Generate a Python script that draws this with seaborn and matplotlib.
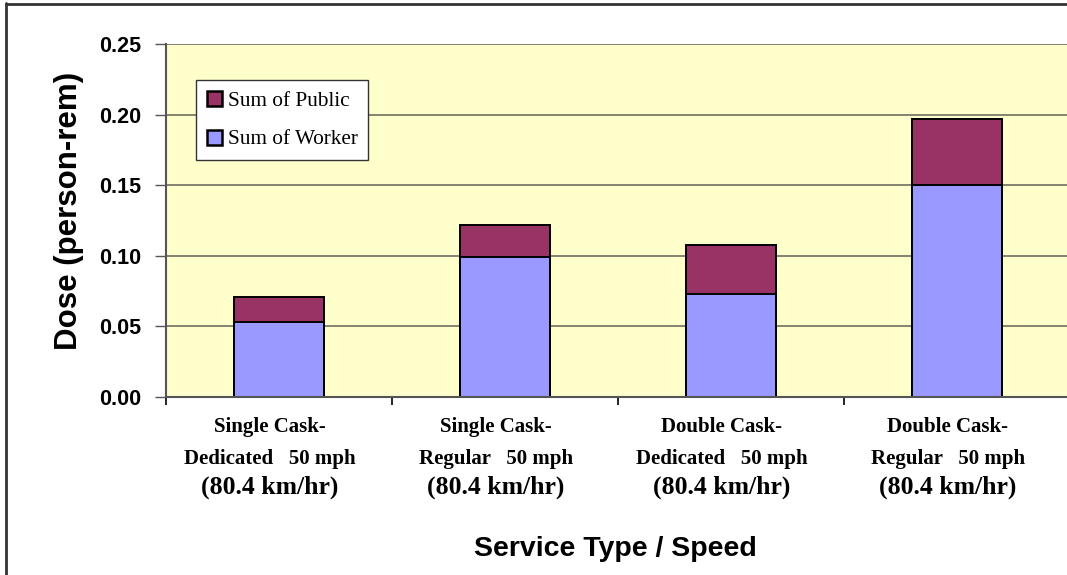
import matplotlib
matplotlib.use("Agg")
import matplotlib.pyplot as plt
import matplotlib.transforms as mtransforms
from matplotlib.lines import Line2D
from matplotlib.patches import Patch
import seaborn as sns
import pandas as pd

# Data
service_line1 = ["Single Cask-", "Single Cask-", "Double Cask-", "Double Cask-"]
service_line2 = ["Dedicated   50 mph", "Regular   50 mph", "Dedicated   50 mph", "Regular   50 mph"]
speed_metric = ["(80.4 km/hr)", "(80.4 km/hr)", "(80.4 km/hr)", "(80.4 km/hr)"]
worker_dose = [0.053, 0.099, 0.073, 0.150]
public_dose = [0.018, 0.023, 0.035, 0.047]
y_ticks = [0.00, 0.05, 0.10, 0.15, 0.20, 0.25]

categories = [f"{a} {b}" for a, b in zip(service_line1, service_line2)]
df = pd.DataFrame({
    "service": categories,
    "Worker": worker_dose,
    "Public": public_dose,
})
df["Total"] = df["Worker"] + df["Public"]

sns.set_theme(style="white")
plt.rcParams["font.family"] = ["Liberation Sans", "DejaVu Sans"]
plt.rcParams["text.color"] = "black"
plt.rcParams["axes.labelcolor"] = "black"
plt.rcParams["xtick.color"] = "black"
plt.rcParams["ytick.color"] = "black"

W, H = 1067, 575
fig = plt.figure(figsize=(W / 100, H / 100), dpi=100)
fig.patch.set_facecolor("white")
ax = fig.add_axes([166 / W, 1 - 397 / H, (1070 - 166) / W, (397 - 44) / H])
ax.set_facecolor("#FFFFCC")

public_color = "#993366"
worker_color = "#9999FF"

# Stacked bars: total (public on top) drawn first, worker portion over it
sns.barplot(data=df, x="service", y="Total", color=public_color, saturation=1,
            width=0.4, edgecolor="black", linewidth=1.4, ax=ax, zorder=3)
sns.barplot(data=df, x="service", y="Worker", color=worker_color, saturation=1,
            width=0.4, edgecolor="black", linewidth=1.4, ax=ax, zorder=4)

ax.set_xlim(-0.5, 3.5)
ax.set_ylim(0, 0.25)
ax.set_yticks(y_ticks)
ax.set_yticklabels([f"{v:.2f}" for v in y_ticks], fontsize=15.5, fontweight="bold")
ax.yaxis.grid(True, color="#7a7a6a", linewidth=1.3, zorder=1)
ax.set_axisbelow(True)

for side in ["top", "right"]:
    ax.spines[side].set_visible(False)
for side in ["left", "bottom"]:
    ax.spines[side].set_color("#555555")
    ax.spines[side].set_linewidth(1.5)
    ax.spines[side].set_zorder(5)

ax.tick_params(axis="y", which="major", direction="out", length=8, width=1,
               color="#555555", pad=10, left=True)

# Category boundaries as downward ticks, labels drawn separately
ax.set_xticks([-0.5, 0.5, 1.5, 2.5, 3.5])
ax.set_xticklabels([])
ax.tick_params(axis="x", which="major", direction="out", length=6, width=1.2,
               color="black", bottom=True)

ax.set_xlabel("")
ax.set_ylabel("Dose (person-rem)", fontsize=22.5, fontweight="bold")
ax.yaxis.set_label_coords((84 - 166) / (1070 - 166), 0.527)

trans = mtransforms.blended_transform_factory(ax.transData, fig.transFigure)
serif = ["Liberation Serif", "DejaVu Serif"]
for i in range(len(categories)):
    xc = i - 0.04
    ax.text(xc, 1 - 427 / H, service_line1[i], transform=trans, ha="center", va="center",
            family=serif, fontweight="bold", fontsize=15)
    ax.text(xc, 1 - 459 / H, service_line2[i], transform=trans, ha="center", va="center",
            family=serif, fontweight="bold", fontsize=15)
    ax.text(xc, 1 - 487 / H, speed_metric[i], transform=trans, ha="center", va="center",
            family=serif, fontweight="bold", fontsize=18.5)

fig.text((470 + 760) / 2 / W, 1 - 549 / H, "Service Type / Speed", ha="center", va="center",
         fontsize=20.5, fontweight="bold")

# Legend
handles = [Patch(facecolor=public_color, edgecolor="black", linewidth=1.8, label="Sum of Public"),
           Patch(facecolor=worker_color, edgecolor="black", linewidth=1.8, label="Sum of Worker")]
leg = ax.legend(handles=handles, loc="upper left",
                bbox_to_anchor=((196 - 166) / (1070 - 166), (397 - 80) / (397 - 44)),
                frameon=True, fancybox=False, framealpha=1, edgecolor="#333333",
                prop={"family": serif, "size": 15.3}, handlelength=0.7, handleheight=0.7,
                handletextpad=0.3, labelspacing=0.9, borderpad=0.5, borderaxespad=0)
leg.get_frame().set_linewidth(1.0)
leg.set_zorder(6)

# Outer chart frame (left and top edges)
fig.add_artist(Line2D([6 / W, 6 / W], [0, 1 - 3 / H], transform=fig.transFigure,
                      color="#333333", linewidth=2))
fig.add_artist(Line2D([6 / W, 1], [1 - 4 / H, 1 - 4 / H], transform=fig.transFigure,
                      color="#333333", linewidth=2))

fig.savefig("out.png", dpi=100, facecolor="white")
